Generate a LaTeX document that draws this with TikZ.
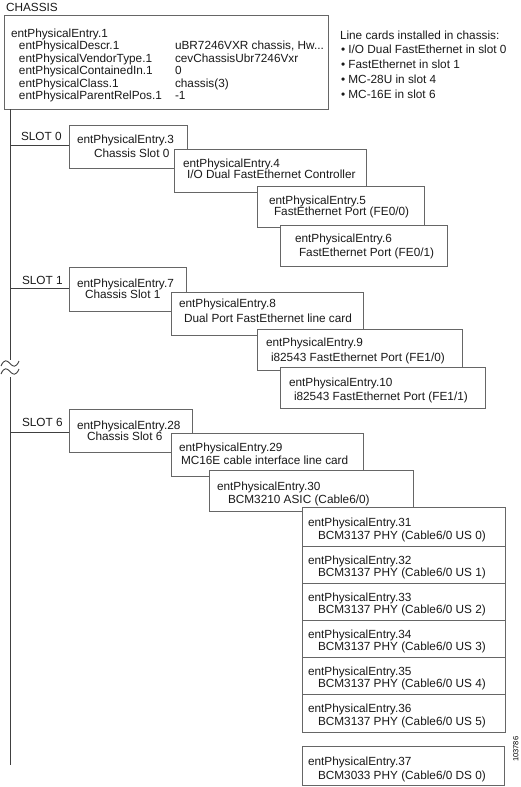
\documentclass[tikz,border=0pt]{standalone}
\usepackage{fontspec}
\setmainfont{Liberation Sans}
\begin{document}
\begin{tikzpicture}[x=1pt,y=-1pt,
  box/.style={draw=black!60, fill=white, line width=0.8pt, inner sep=0pt, outer sep=0pt, anchor=north west},
  txt/.style={anchor=base west, inner sep=0pt, outer sep=0pt, font=\fontsize{11.8}{13}\selectfont, text=black!90},
  conn/.style={draw=black!75, line width=0.9pt},
  tag/.style={anchor=north west, inner sep=0pt, font=\fontsize{7.5}{8}\selectfont, rotate=90}]
\useasboundingbox (0,0) rectangle (520,787);

% ---- chassis ----
\node[txt] (chtitle) at (6,11) {CHASSIS};
\node[box, minimum width=324pt, minimum height=94pt] (chassis) at (4,15) {};
\node[txt] (c0) at (11,37) {entPhysicalEntry.1};
\node[txt] (c1) at (19,49.5) {entPhysicalDescr.1};
\node[txt] (c2) at (19,62) {entPhysicalVendorType.1};
\node[txt] (c3) at (19,74.5) {entPhysicalContainedIn.1};
\node[txt] (c4) at (19,87) {entPhysicalClass.1};
\node[txt] (c5) at (19,99.5) {entPhysicalParentRelPos.1};
\node[txt] (v1) at (175,49.5) {uBR7246VXR chassis, Hw...};
\node[txt] (v2) at (175,62) {cevChassisUbr7246Vxr};
\node[txt] (v3) at (175,74.5) {0};
\node[txt] (v4) at (175,87) {chassis(3)};
\node[txt] (v5) at (175,99.5) {-1};

% ---- note ----
\node[txt] (n0) at (340,39) {Line cards installed in chassis:};
\node[txt] (n1) at (341,53) {• I/O Dual FastEthernet in slot 0};
\node[txt] (n2) at (341,68) {• FastEthernet in slot 1};
\node[txt] (n3) at (341,83) {• MC-28U in slot 4};
\node[txt] (n4) at (341,98) {• MC-16E in slot 6};

% ---- spine ----
\coordinate (sp0) at ([xshift=6pt]chassis.south west);
\coordinate (gapA) at (10,360);
\coordinate (gapB) at (10,377);
\coordinate (sp1) at (10,765);
\draw[conn] (sp0) -- (gapA);
\draw[conn] (gapB) -- (sp1);
\draw[conn] (1,366) .. controls (4,359) and (7,360) .. (10,363.5) .. controls (13,367) and (16,368) .. (19,361);
\draw[conn] (1,374) .. controls (4,367) and (7,368) .. (10,371.5) .. controls (13,375) and (16,376) .. (19,369);

% ---- slot 0 ----
\node[txt] (sl0) at (21,140) {SLOT 0};
\node[box, minimum width=118pt, minimum height=43pt] (b3) at (69,125) {};
\node[txt] (t3a) at ([shift={(8,18)}]b3.north west) {entPhysicalEntry.3};
\node[txt] (t3b) at ([shift={(25,32)}]b3.north west) {Chassis Slot 0};
\node[box, minimum width=192pt, minimum height=43pt] (b4) at (174,149) {};
\node[txt] (t4a) at ([shift={(9,18)}]b4.north west) {entPhysicalEntry.4};
\node[txt] (t4b) at ([shift={(13,29)}]b4.north west) {I/O Dual FastEthernet Controller};
\node[box, minimum width=167pt, minimum height=41pt] (b5) at (257,186) {};
\node[txt] (t5a) at ([shift={(12,18)}]b5.north west) {entPhysicalEntry.5};
\node[txt] (t5b) at ([shift={(17,29)}]b5.north west) {FastEthernet Port (FE0/0)};
\node[box, minimum width=167pt, minimum height=41pt] (b6) at (280,225) {};
\node[txt] (t6a) at ([shift={(15,17)}]b6.north west) {entPhysicalEntry.6};
\node[txt] (t6b) at ([shift={(19,31.5)}]b6.north west) {FastEthernet Port (FE0/1)};
\coordinate (j0) at (10,145);
\draw[conn] (j0) -- (j0 -| b3.west);

% ---- slot 1 ----
\node[txt] (sl1) at (22,284) {SLOT 1};
\node[box, minimum width=117pt, minimum height=44pt] (b7) at (69,267) {};
\node[txt] (t7a) at ([shift={(8,20)}]b7.north west) {entPhysicalEntry.7};
\node[txt] (t7b) at ([shift={(16,31)}]b7.north west) {Chassis Slot 1};
\node[box, minimum width=192pt, minimum height=43pt] (b8) at (171,292) {};
\node[txt] (t8a) at ([shift={(8,15.5)}]b8.north west) {entPhysicalEntry.8};
\node[txt] (t8b) at ([shift={(13,30)}]b8.north west) {Dual Port FastEthernet line card};
\node[box, minimum width=205pt, minimum height=41pt] (b9) at (257,329) {};
\node[txt] (t9a) at ([shift={(9,17)}]b9.north west) {entPhysicalEntry.9};
\node[txt] (t9b) at ([shift={(14,32)}]b9.north west) {i82543 FastEthernet Port (FE1/0)};
\node[box, minimum width=205pt, minimum height=41pt] (b10) at (280,367) {};
\node[txt] (t10a) at ([shift={(9,19)}]b10.north west) {entPhysicalEntry.10};
\node[txt] (t10b) at ([shift={(14,33)}]b10.north west) {i82543 FastEthernet Port (FE1/1)};
\coordinate (j1) at (10,288);
\draw[conn] (j1) -- (j1 -| b7.west);

% ---- slot 6 ----
\node[txt] (sl6) at (22,426) {SLOT 6};
\node[box, minimum width=123pt, minimum height=43pt] (b28) at (69,409) {};
\node[txt] (t28a) at ([shift={(8,20)}]b28.north west) {entPhysicalEntry.28};
\node[txt] (t28b) at ([shift={(18,31)}]b28.north west) {Chassis Slot 6};
\node[box, minimum width=192pt, minimum height=43pt] (b29) at (171,433) {};
\node[txt] (t29a) at ([shift={(8,18)}]b29.north west) {entPhysicalEntry.29};
\node[txt] (t29b) at ([shift={(10,31)}]b29.north west) {MC16E cable interface line card};
\node[box, minimum width=204pt, minimum height=41pt] (b30) at (209,470) {};
\node[txt] (t30a) at ([shift={(8,20)}]b30.north west) {entPhysicalEntry.30};
\node[txt] (t30b) at ([shift={(19,33)}]b30.north west) {BCM3210 ASIC (Cable6/0)};
\coordinate (j6) at (10,432);
\draw[conn] (j6) -- (j6 -| b28.west);

\node[box, minimum width=203pt, minimum height=39pt] (b31) at (302,507) {};
\node[txt] (t31a) at ([shift={(6,19.5)}]b31.north west) {entPhysicalEntry.31};
\node[txt] (t31b) at ([shift={(16,32)}]b31.north west) {BCM3137 PHY (Cable6/0 US 0)};
\node[box, minimum width=203pt, minimum height=37pt] (b32) at (302,546) {};
\node[txt] (t32a) at ([shift={(6,18)}]b32.north west) {entPhysicalEntry.32};
\node[txt] (t32b) at ([shift={(16,30.5)}]b32.north west) {BCM3137 PHY (Cable6/0 US 1)};
\node[box, minimum width=203pt, minimum height=37pt] (b33) at (302,583) {};
\node[txt] (t33a) at ([shift={(6,18)}]b33.north west) {entPhysicalEntry.33};
\node[txt] (t33b) at ([shift={(16,30.5)}]b33.north west) {BCM3137 PHY (Cable6/0 US 2)};
\node[box, minimum width=203pt, minimum height=37pt] (b34) at (302,620) {};
\node[txt] (t34a) at ([shift={(6,18)}]b34.north west) {entPhysicalEntry.34};
\node[txt] (t34b) at ([shift={(16,30.5)}]b34.north west) {BCM3137 PHY (Cable6/0 US 3)};
\node[box, minimum width=203pt, minimum height=37.5pt] (b35) at (302,657) {};
\node[txt] (t35a) at ([shift={(6,18)}]b35.north west) {entPhysicalEntry.35};
\node[txt] (t35b) at ([shift={(16,30.5)}]b35.north west) {BCM3137 PHY (Cable6/0 US 4)};
\node[box, minimum width=203pt, minimum height=38pt] (b36) at (302,694.5) {};
\node[txt] (t36a) at ([shift={(6,18)}]b36.north west) {entPhysicalEntry.36};
\node[txt] (t36b) at ([shift={(16,30.5)}]b36.north west) {BCM3137 PHY (Cable6/0 US 5)};
\node[box, minimum width=202pt, minimum height=38.5pt] (b37) at (302,746.5) {};
\node[txt] (t37a) at ([shift={(6,18.5)}]b37.north west) {entPhysicalEntry.37};
\node[txt] (t37b) at ([shift={(16,32.5)}]b37.north west) {BCM3033 PHY (Cable6/0 DS 0)};

\node[tag] (fig) at (513,762) {103786};
\end{tikzpicture}
\end{document}
